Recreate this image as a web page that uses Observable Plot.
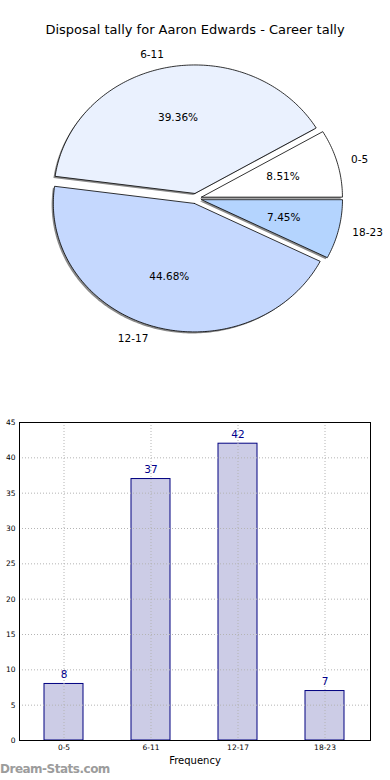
<!DOCTYPE html>
<html>
<head>
<meta charset="utf-8">
<script src="https://cdn.jsdelivr.net/npm/d3@7"></script>
<script src="https://cdn.jsdelivr.net/npm/@observablehq/plot@0.6"></script>
<style>
body { margin: 0; background: #fff; }
#wrap { position: relative; width: 390px; height: 780px; font-family: "DejaVu Sans", sans-serif; overflow: hidden; }
#title { position: absolute; left: 0; width: 390px; top: 22px; text-align: center; font-size: 13px; color: #000; line-height: 15px; }
#pie { position: absolute; left: 0; top: 0; }
#bar { position: absolute; left: 0; top: 410px; }
#mark { position: absolute; left: 0; top: 762px; font-size: 12px; color: #9c9c9c; font-weight: 600; letter-spacing: -0.5px; }
</style>
</head>
<body>
<div id="wrap">
  <div id="pie"></div>
  <div id="title">Disposal tally for Aaron Edwards - Career tally</div>
  <div id="bar"></div>
  <div id="mark">Dream-Stats.com</div>
</div>
<script>
// ---- data ----
const categories = ["0-5", "6-11", "12-17", "18-23"];
const counts = [8, 37, 42, 7];
const yTicks = [0, 5, 10, 15, 20, 25, 30, 35, 40, 45];
const chartTitle = "Disposal tally for Aaron Edwards - Career tally";
const xLabel = "Frequency";

// ---- styles ----
const sliceColors = ["#ffffff", "#eaf1fe", "#c5d8fe", "#b4d4fe"];
const explode = 0.04;
const shadowOffset = 0.012;
const font = "DejaVu Sans";

// ---- pie geometry (angles from data via d3.pie) ----
const total = d3.sum(counts);
const pie = d3.pie().sort(null).startAngle(0).endAngle(2 * Math.PI)(counts);
const slices = pie.map((p, i) => {
  const a0 = p.startAngle, a1 = p.endAngle, mid = (a0 + a1) / 2;
  const ox = explode * Math.cos(mid), oy = explode * Math.sin(mid);
  const pts = [{x: ox, y: oy}];
  const n = Math.max(4, Math.ceil((a1 - a0) / (Math.PI / 180)));
  for (let k = 0; k <= n; k++) {
    const t = a0 + (a1 - a0) * k / n;
    pts.push({x: ox + Math.cos(t), y: oy + Math.sin(t)});
  }
  pts.push({x: ox, y: oy});
  return {
    cat: categories[i], value: counts[i], color: sliceColors[i], pts, mid, ox, oy,
    pct: (100 * counts[i] / total).toFixed(2) + "%"
  };
});

const pctRows = slices.map(s => ({x: s.ox + 0.6 * Math.cos(s.mid), y: s.oy + 0.6 * Math.sin(s.mid), text: s.pct}));
const labRows = slices.map(s => ({x: s.ox + 1.1 * Math.cos(s.mid), y: s.oy + 1.1 * Math.sin(s.mid), text: s.cat}));

const pieMarks = [];
slices.forEach(s => {
  pieMarks.push(Plot.line(s.pts.map(p => ({x: p.x - shadowOffset, y: p.y - shadowOffset})), {
    x: "x", y: "y", fill: "#8a8a8a", stroke: "none", curve: "linear"
  }));
});
slices.forEach(s => {
  pieMarks.push(Plot.line(s.pts, {
    x: "x", y: "y", fill: s.color, stroke: "#000", strokeWidth: 0.8, curve: "linear"
  }));
});
pieMarks.push(Plot.text(pctRows, {x: "x", y: "y", text: "text", fontSize: 10.5, fill: "#000", textAnchor: "middle"}));
pieMarks.push(Plot.text(labRows.filter(d => d.x > 0), {x: "x", y: "y", text: "text", fontSize: 10.5, fill: "#000", textAnchor: "start"}));
pieMarks.push(Plot.text(labRows.filter(d => d.x <= 0), {x: "x", y: "y", text: "text", fontSize: 10.5, fill: "#000", textAnchor: "end"}));

const piePlot = Plot.plot({
  width: 390, height: 380,
  marginTop: 0, marginRight: 0, marginBottom: 0, marginLeft: 0,
  style: {fontFamily: font, background: "transparent"},
  x: {domain: [-1, 1], range: [54.5, 336.5], axis: null},
  y: {domain: [-1, 1], range: [326.5, 69.5], axis: null},
  marks: pieMarks
});
document.getElementById("pie").appendChild(piePlot);

// ---- bar chart ----
const barData = categories.map((c, i) => ({cat: c, count: counts[i]}));
const barPlot = Plot.plot({
  width: 390, height: 370,
  marginTop: 12, marginRight: 20, marginBottom: 40, marginLeft: 19,
  style: {fontFamily: font, background: "transparent"},
  x: {domain: categories, paddingInner: 0.55, paddingOuter: 0.275, label: null},
  y: {domain: [0, 45], label: null},
  marks: [
    Plot.barY(barData, {x: "cat", y: "count", fill: "#ccccE6", stroke: "#000080", strokeWidth: 1}),
    Plot.ruleY(yTicks, {stroke: "#b4b4b4", strokeDasharray: "1,2"}),
    Plot.ruleX(categories, {x: d => d, stroke: "#b4b4b4", strokeDasharray: "1,2"}),
    Plot.text(barData, {x: "cat", y: "count", text: d => String(d.count), dy: -9, fontSize: 10.5, fill: "#00008b"}),
    Plot.frame({stroke: "#000", strokeWidth: 1}),
    Plot.axisY({ticks: yTicks, tickSize: 0, tickPadding: 4, fontSize: 7.5, label: null}),
    Plot.axisX({tickSize: 0, tickPadding: 4, fontSize: 7.5, label: null}),
    Plot.text([xLabel], {frameAnchor: "bottom", dy: 20, fontSize: 10, fill: "#000", lineAnchor: "middle"})
  ]
});
document.getElementById("bar").appendChild(barPlot);
</script>
</body>
</html>
